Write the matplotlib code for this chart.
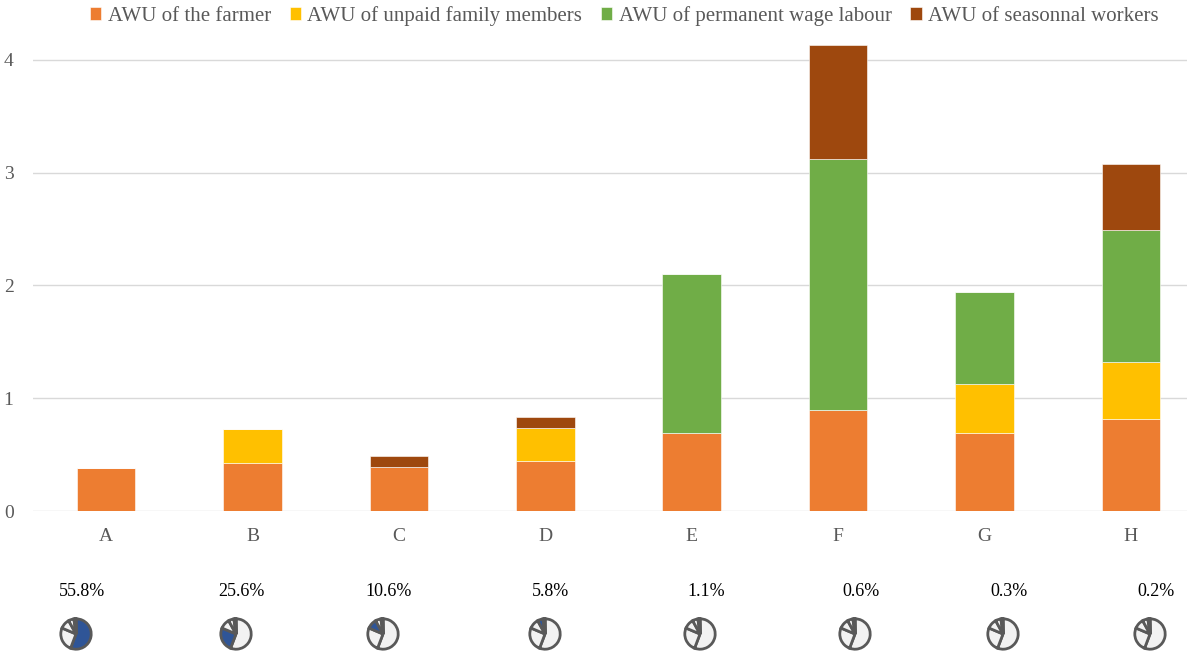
import matplotlib.pyplot as plt
import numpy as np

# categories and stacked values (AWU)
categories = ['A', 'B', 'C', 'D', 'E', 'F', 'G', 'H']
farmer = [0.38, 0.43, 0.39, 0.44, 0.69, 0.90, 0.69, 0.82]
family = [0.00, 0.30, 0.00, 0.30, 0.00, 0.00, 0.44, 0.50]
permanent = [0.00, 0.00, 0.00, 0.00, 1.41, 2.22, 0.81, 1.17]
seasonal = [0.00, 0.00, 0.10, 0.09, 0.00, 1.01, 0.00, 0.59]

# share of farms in each group (%)
shares = [55.8, 25.6, 10.6, 5.8, 1.1, 0.6, 0.3, 0.2]
share_labels = ['55.8%', '25.6%', '10.6%', '5.8%', '1.1%', '0.6%', '0.3%', '0.2%']

series_names = ['AWU of the farmer', 'AWU of unpaid family members',
                'AWU of permanent wage labour', 'AWU of seasonnal workers']
colors = ['#ed7d31', '#ffc000', '#70ad47', '#9e480e']

plt.rcParams['font.family'] = ['Liberation Serif', 'DejaVu Serif']

W, H = 1187, 657
fig = plt.figure(figsize=(W / 100, H / 100), dpi=100)
ax = fig.add_axes([33 / W, 1 - 511 / H, 1171 / W, (511 - 37.4) / H])

x = np.arange(len(categories))
bottom = np.zeros(len(categories))
bars = []
for vals, col, name in zip([farmer, family, permanent, seasonal], colors, series_names):
    b = ax.bar(x, vals, 0.4, bottom=bottom, color=col, label=name,
               edgecolor='white', linewidth=0.4, zorder=3)
    bars.append(b)
    bottom += np.array(vals)

ax.set_xlim(-0.5, 7.5)
ax.set_ylim(0, 4.2)
ax.set_yticks([0, 1, 2, 3, 4])
ax.grid(axis='y', color='#d9d9d9', linewidth=1, zorder=0)
for s in ax.spines.values():
    s.set_visible(False)
ax.tick_params(axis='both', length=0, colors='#595959', labelsize=14)
ax.tick_params(axis='y', pad=14)
ax.tick_params(axis='x', pad=12)
ax.set_xticks(x)
ax.set_xticklabels(categories)

fig.legend(handles=bars, labels=series_names, loc='center', bbox_to_anchor=(0.526, 1 - 16 / H),
           ncol=4, frameon=False, fontsize=15, handlelength=0.55, handleheight=0.55,
           handletextpad=0.3, columnspacing=0.9, labelcolor='#595959')

# small pies under each group
pie_x = [76, 236, 383, 545, 700, 855, 1003, 1150]
pie_y = 634
d = 38
for i, (px, lab) in enumerate(zip(pie_x, share_labels)):
    pax = fig.add_axes([(px - d / 2) / W, 1 - (pie_y + d / 2) / H, d / W, d / H])
    cols = ['#2f5597' if j == i else '#f2f2f2' for j in range(len(shares))]
    pax.pie(shares, colors=cols, startangle=90, counterclock=False,
            wedgeprops=dict(edgecolor='#595959', linewidth=2))
    pax.set_aspect('equal')
    fig.text(px / W + 0.005, 1 - 591 / H, lab, ha='center', va='center', fontsize=13, color='black')

fig.savefig('out.png', dpi=100)
